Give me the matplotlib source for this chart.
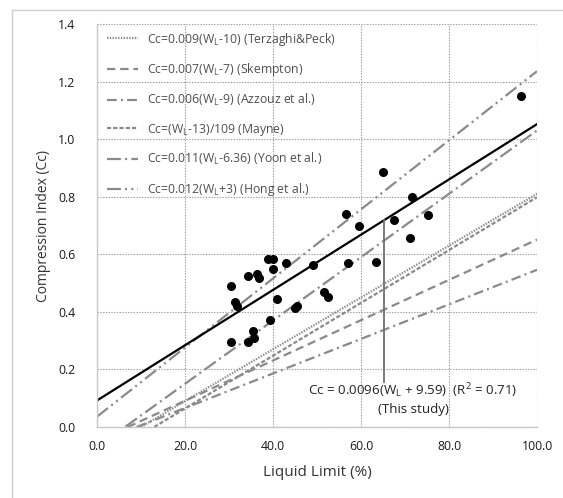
import numpy as np
import matplotlib
matplotlib.use("Agg")
import matplotlib.pyplot as plt
from matplotlib.lines import Line2D

plt.rcParams['font.family'] = ['Open Sans', 'DejaVu Sans']
plt.rcParams['lines.scale_dashes'] = False

# Measured data (Liquid limit %, Cc)
wl = [64.9, 71.5, 56.5, 59.5, 67.5, 75.3, 71.1, 38.9, 40.1, 43.0, 40.1, 49.0,
      57.1, 63.3, 34.3, 36.4, 36.9, 30.4, 31.3, 31.8, 40.8, 51.6, 52.6, 44.9,
      45.4, 39.3, 35.5, 35.7, 30.4, 34.3, 96.3]
cc = [0.886, 0.800, 0.741, 0.698, 0.719, 0.736, 0.658, 0.584, 0.583, 0.569,
      0.549, 0.562, 0.569, 0.572, 0.523, 0.530, 0.516, 0.491, 0.433, 0.419,
      0.444, 0.470, 0.453, 0.414, 0.421, 0.373, 0.334, 0.309, 0.294, 0.294, 1.150]

# Empirical equations: Cc = slope * (WL + offset)
eq_labels = ["Cc=0.009(W$_\\mathregular{L}$-10) (Terzaghi&Peck)",
             "Cc=0.007(W$_\\mathregular{L}$-7) (Skempton)",
             "Cc=0.006(W$_\\mathregular{L}$-9) (Azzouz et al.)",
             "Cc=(W$_\\mathregular{L}$-13)/109 (Mayne)",
             "Cc=0.011(W$_\\mathregular{L}$-6.36) (Yoon et al.)",
             "Cc=0.012(W$_\\mathregular{L}$+3) (Hong et al.)"]
eq_slopes = [0.009, 0.007, 0.006, 1 / 109, 0.011, 0.012]
eq_offsets = [-10, -7, -9, -13, -6.36, 3]
eq_dashes = [(1, 1), (6, 3.5), (7, 3, 1.5, 3), (3, 1.5), (10, 3, 1.5, 3),
             (10, 3, 1.5, 3, 1.5, 3)]

study_slope, study_offset = 0.0096, 9.59
xticks = [0, 20, 40, 60, 80, 100]
yticks = [0.0, 0.2, 0.4, 0.6, 0.8, 1.0, 1.2, 1.4]

fig = plt.figure(figsize=(5.63, 4.98), dpi=100)
ax = fig.add_axes([97 / 563, 1 - 427 / 498, 440 / 563, 403 / 498])

gray = '#8a8a8a'
xs = np.linspace(0, 100, 401)
handles = []
for lab, s, o, d in zip(eq_labels, eq_slopes, eq_offsets, eq_dashes):
    ys = s * (xs + o)
    m = ys >= 0
    ln, = ax.plot(xs[m], ys[m], color=gray, lw=1.6, dashes=d, label=lab)
    handles.append(ln)

ys = study_slope * (xs + study_offset)
ax.plot(xs, ys, color='black', lw=1.6)
ax.scatter(wl, cc, s=30, color='black', zorder=5)

# annotation leader line
xa = 65.2
ax.plot([xa, xa], [0.157, study_slope * (xa + study_offset)], color='#707070', lw=1.3)
ax.text(71.7, 0.128, "Cc = 0.0096(W$_\\mathregular{L}$ + 9.59)  (R$^\\mathregular{2}$ = 0.71)",
        ha='center', va='center', fontsize=9.6, color='#222222')
ax.text(71.9, 0.062, "(This study)", ha='center', va='center', fontsize=9.6, color='#222222')

ax.set_xlim(0, 100)
ax.set_ylim(0, 1.4)
ax.set_xticks(xticks)
ax.set_yticks(yticks)
ax.set_xticklabels([f"{v:.1f}" for v in xticks])
ax.set_yticklabels([f"{v:.1f}" for v in yticks])
ax.tick_params(length=0, labelsize=8.8, colors='#1a1a1a')
ax.tick_params(axis='y', pad=28)
ax.tick_params(axis='x', pad=9)
for t in ax.get_yticklabels():
    t.set_ha('left')
ax.grid(True, color='#a0a0a0', linestyle=(0, (1, 1)), lw=0.8)
ax.set_axisbelow(True)
for sp in ['top', 'right']:
    ax.spines[sp].set_visible(False)
for sp in ['left', 'bottom']:
    ax.spines[sp].set_color('#c8c8c8')
    ax.spines[sp].set_linewidth(1.0)
ax.set_xlabel("Liquid Limit (%)", fontsize=11, color='#333333')
ax.set_ylabel("Compression Index (Cc)", fontsize=10, color='#333333')
ax.xaxis.set_label_coords(0.5, -0.114)
ax.xaxis.label.set_va('center')
ax.yaxis.set_label_coords(-0.1227, 0.499)
ax.yaxis.label.set_va('center')

leg = ax.legend(handles=handles, loc='upper left', bbox_to_anchor=(0.004, 1.005),
                frameon=False, fontsize=8.8, labelspacing=1.12, handlelength=2.5,
                handletextpad=0.75, borderaxespad=0.3, labelcolor='#505050')

# outer frame
fig.add_artist(Line2D([12 / 563, 1], [1 - 10 / 498, 1 - 10 / 498], color='#d0d0d0', lw=1.0))
fig.add_artist(Line2D([12 / 563, 12 / 563], [0, 1 - 10 / 498], color='#d0d0d0', lw=1.0))

fig.savefig("out.png", dpi=100)
